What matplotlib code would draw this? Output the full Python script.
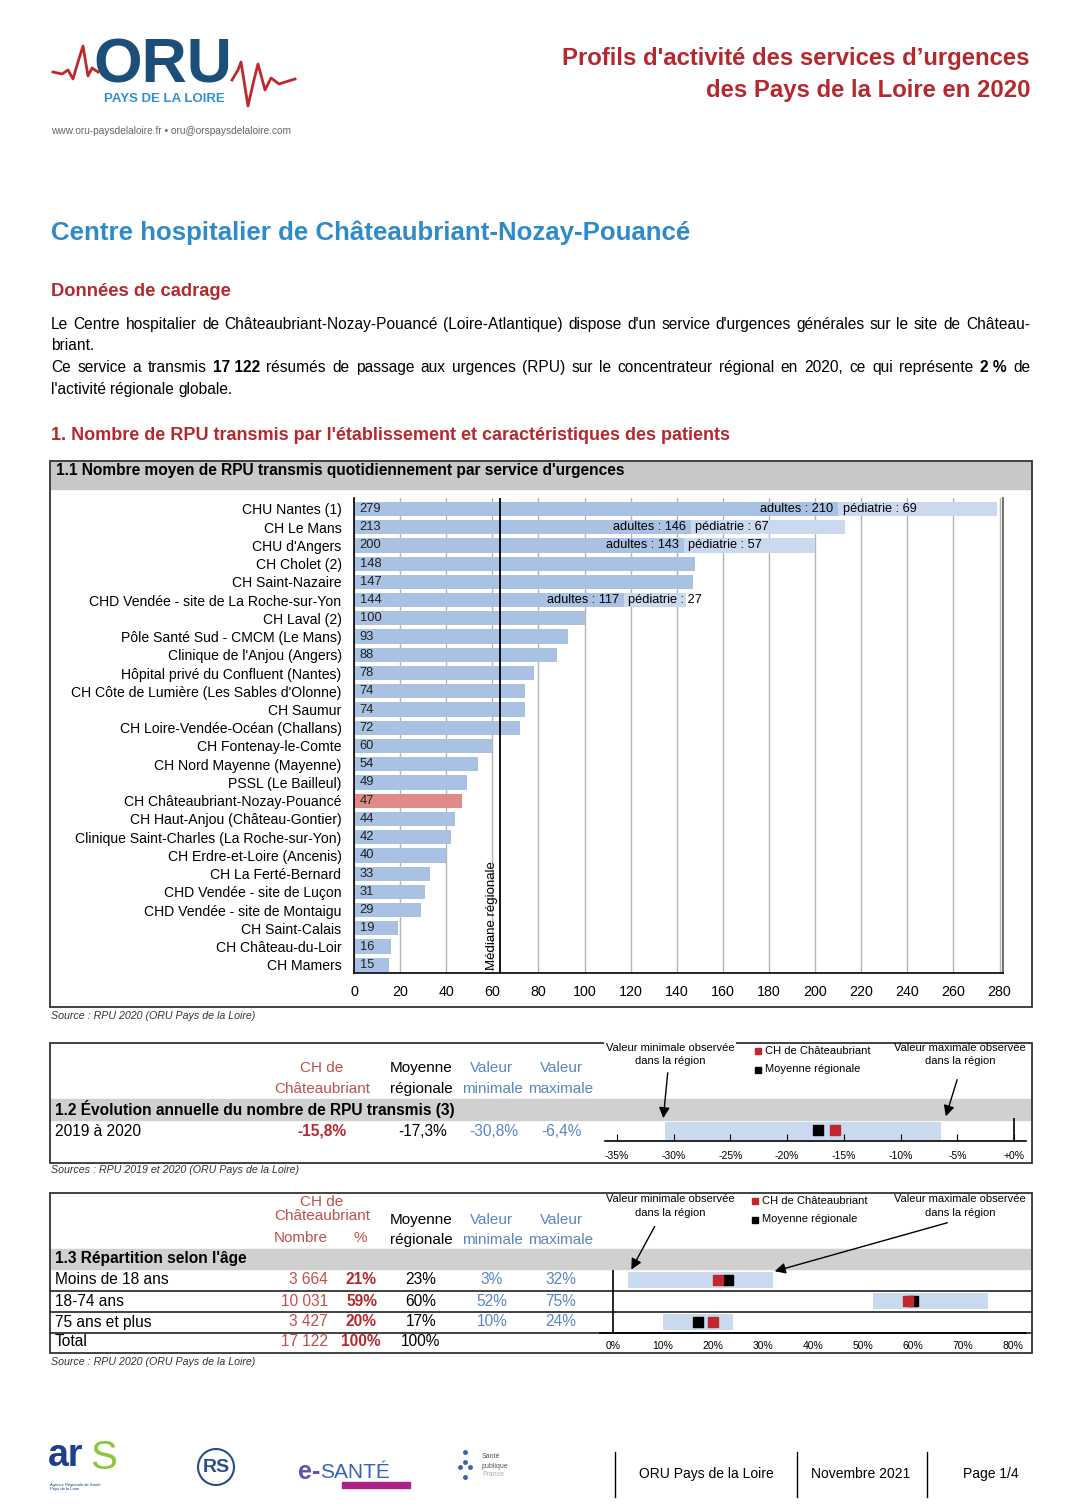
import numpy as np
import matplotlib.pyplot as plt
from matplotlib.patches import Rectangle, Circle

plt.rcParams['font.family'] = ['Liberation Sans', 'DejaVu Sans']

# 1.1 nombre moyen de RPU par jour
etablissements = ["CHU Nantes (1)", "CH Le Mans", "CHU d'Angers", "CH Cholet (2)", "CH Saint-Nazaire",
                  "CHD Vendée - site de La Roche-sur-Yon", "CH Laval (2)", "Pôle Santé Sud - CMCM (Le Mans)",
                  "Clinique de l'Anjou (Angers)", "Hôpital privé du Confluent (Nantes)",
                  "CH Côte de Lumière (Les Sables d'Olonne)", "CH Saumur", "CH Loire-Vendée-Océan (Challans)",
                  "CH Fontenay-le-Comte", "CH Nord Mayenne (Mayenne)", "PSSL (Le Bailleul)",
                  "CH Châteaubriant-Nozay-Pouancé", "CH Haut-Anjou (Château-Gontier)",
                  "Clinique Saint-Charles (La Roche-sur-Yon)", "CH Erdre-et-Loire (Ancenis)", "CH La Ferté-Bernard",
                  "CHD Vendée - site de Luçon", "CHD Vendée - site de Montaigu", "CH Saint-Calais",
                  "CH Château-du-Loir", "CH Mamers"]
rpu_jour = [279, 213, 200, 148, 147, 144, 100, 93, 88, 78, 74, 74, 72, 60, 54, 49, 47, 44, 42, 40, 33, 31, 29, 19, 16, 15]
split_noms = ["CHU Nantes (1)", "CH Le Mans", "CHU d'Angers", "CHD Vendée - site de La Roche-sur-Yon"]
split_adultes = [210, 146, 143, 117]
split_pedia = [69, 67, 57, 27]
mediane = 63.5
etab = "CH Châteaubriant-Nozay-Pouancé"
x_ticks = list(range(0, 281, 20))

# 1.2 evolution 2019 -> 2020
evol_ch = -15.8
evol_moy = -17.3
evol_min = -30.8
evol_max = -6.4
evol_ticks = [-35, -30, -25, -20, -15, -10, -5, 0]
evol_labels = ["-35%", "-30%", "-25%", "-20%", "-15%", "-10%", "-5%", "+0%"]

# 1.3 age
age_cl = ["Moins de 18 ans", "18-74 ans", "75 ans et plus"]
age_nb = [3664, 10031, 3427]
age_pct = [21, 59, 20]
age_moy = [23, 60, 17]
age_min = [3, 52, 10]
age_max = [32, 75, 24]
age_total = 17122
age_ticks = [0, 10, 20, 30, 40, 50, 60, 70, 80]

ROUGE = '#b5282d'
ROUGE2 = '#c0504d'
BLEU = '#5b84c4'
BLEU_BAR = '#a9c1e2'
BLEU_CLAIR = '#c9d9ee'
T = 11.2  # taille du texte des tableaux


def nb(n):
    return f"{n:,}".replace(",", " ")


fig = plt.figure(figsize=(10.8, 15.12), dpi=100)
page = fig.add_axes([0, 0, 1, 1])
page.set_xlim(0, 1080)
page.set_ylim(1512, 0)
page.axis('off')


def px_axes(x0, y0, x1, y1):
    return fig.add_axes([x0 / 1080, 1 - y1 / 1512, (x1 - x0) / 1080, (y1 - y0) / 1512])


def txt(x, y, s, size=T, **kw):
    kw.setdefault('va', 'center')
    return page.text(x, y, s, fontsize=size, **kw)


def ligne_justifiee(mots, y, x0, x1=None, size=11.2):
    # y = ligne de base
    r = fig.canvas.get_renderer()
    objs = [txt(x0, y, m, size, va='baseline', fontweight='bold' if g else 'normal') for m, g in mots]
    larg = [t.get_window_extent(r).width for t in objs]
    gap = size * 0.28 * 100 / 72 if x1 is None else (x1 - x0 - sum(larg)) / (len(objs) - 1)
    x = x0
    for t, w in zip(objs, larg):
        t.set_x(x)
        x += w + gap


# ---- en-tete
ecg_g = [(53, 72), (62, 74), (68, 70), (73, 79), (78, 62), (83, 46), (88, 76), (92, 68), (98, 72)]
ecg_d = [(232, 80), (238, 70), (241, 62), (248, 106), (253, 84), (258, 64), (265, 90), (271, 78), (279, 84), (295, 79)]
page.plot(*zip(*ecg_g), color='#c0282d', lw=2)
page.plot(*zip(*ecg_d), color='#c0282d', lw=2)
page.text(93, 66, "ORU", fontsize=45, fontweight='bold', color='#1b4f7a', va='center')
txt(164, 99, "PAYS DE LA LOIRE", 9.5, fontweight='bold', color='#2f8fd6', ha='center')
txt(51, 131, "www.oru-paysdelaloire.fr \u2022 oru@orspaysdelaloire.com", 7.3, color='#666666')

txt(1030, 58, "Profils d'activité des services d’urgences", 17.2, fontweight='bold', color=ROUGE, ha='right')
txt(1030, 91, "des Pays de la Loire en 2020", 17.2, fontweight='bold', color=ROUGE, ha='right')

txt(51, 233, "Centre hospitalier de Châteaubriant-Nozay-Pouancé", 18.6, fontweight='bold', color='#2e8bc9')
txt(51, 292, "Données de cadrage", 13.2, fontweight='bold', color=ROUGE)

l1 = [(m, False) for m in "Le Centre hospitalier de Châteaubriant-Nozay-Pouancé (Loire-Atlantique) dispose d'un "
      "service d'urgences générales sur le site de Château-".split()]
l3 = [(m, False) for m in "Ce service a transmis".split()] + [("17 122", True)] + \
     [(m, False) for m in "résumés de passage aux urgences (RPU) sur le concentrateur régional en 2020, ce qui "
      "représente".split()] + [("2 %", True), ("de", False)]
ligne_justifiee(l1, 329, 51, 1030)
ligne_justifiee([("briant.", False)], 350, 51)
ligne_justifiee(l3, 372, 51, 1030)
ligne_justifiee([(m, False) for m in "l'activité régionale globale.".split()], 394, 51)

txt(51, 436, "1. Nombre de RPU transmis par l'établissement et caractéristiques des patients", 13,
    fontweight='bold', color=ROUGE)

# ---- boites
for y0, y1 in [(461, 1007), (1043, 1163), (1193, 1353)]:
    page.add_patch(Rectangle((50, y0), 982, y1 - y0, fill=False, ec='#333333', lw=1.3, zorder=1))
page.add_patch(Rectangle((51, 462), 980, 27, color='#c8c8c8', zorder=0))
page.add_patch(Rectangle((51, 1099), 980, 21, color='#d0d0d0', zorder=0))
page.add_patch(Rectangle((51, 1249), 980, 20, color='#d0d0d0', zorder=0))
txt(56, 470, "1.1 Nombre moyen de RPU transmis quotidiennement par service d'urgences", 11.2, fontweight='bold')

# ---- 1.1 barres
ax = px_axes(354, 498, 1003, 973)
y = np.arange(len(etablissements))
couleurs = ['#e08a87' if n == etab else BLEU_BAR for n in etablissements]
ax.barh(y, rpu_jour, height=0.78, color=couleurs, zorder=2)
for nom, a, p in zip(split_noms, split_adultes, split_pedia):
    i = etablissements.index(nom)
    ax.barh(i, p, left=a, height=0.78, color='#cbd9ef', zorder=3)
    ax.text(a - 2, i, f"adultes : {a}", ha='right', va='center', fontsize=9.2, zorder=4)
    ax.text(a + 2, i, f"pédiatrie : {p}", ha='left', va='center', fontsize=9.2, zorder=4)
for i, v in enumerate(rpu_jour):
    ax.text(2.5, i, str(v), va='center', fontsize=9.3, color='#222222', zorder=4)
ax.axvline(mediane, color='black', lw=1.3, zorder=5)
ax.text(mediane - 1.2, 25.3, "Médiane régionale", rotation=90, ha='right', va='bottom', fontsize=9.5, zorder=5)
ax.set_xlim(0, 281.5)
ax.set_ylim(25.45, -0.6)
ax.set_xticks(x_ticks)
ax.set_yticks(y, etablissements)
ax.grid(axis='x', color='#b5b5b5', lw=1, zorder=1)
ax.tick_params(axis='y', length=0, pad=9, labelsize=10.1)
ax.tick_params(axis='x', length=0, pad=9, labelsize=10.3)
ax.spines['top'].set_visible(False)
for s in ['left', 'bottom', 'right']:
    ax.spines[s].set_linewidth(1.2)
ax.spines['right'].set_color('#555555')
ax.set_axisbelow(True)

txt(51, 1016, "Source : RPU 2020 (ORU Pays de la Loire)", 7.7, style='italic', color='#333333')


# ---- legende et fleches des petits graphiques
def legende_mini(y_txt, y_leg, fl_min, fl_max, masque=False):
    bb = dict(facecolor='white', edgecolor='none', pad=1.5) if masque else None
    txt(670, y_txt, "Valeur minimale observée", 8, ha='center', bbox=bb, zorder=3)
    txt(670, y_txt + 13.5, "dans la région", 8, ha='center')
    txt(960, y_txt, "Valeur maximale observée", 8, ha='center')
    txt(960, y_txt + 13.5, "dans la région", 8, ha='center')
    page.plot(y_leg[0], y_leg[1], 's', color='#c0282d', ms=5)
    page.plot(y_leg[0], y_leg[1] + 18.5, 's', color='black', ms=5)
    txt(y_leg[0] + 7, y_leg[1], "CH de Châteaubriant", 8)
    txt(y_leg[0] + 7, y_leg[1] + 18.5, "Moyenne régionale", 8)
    for (xa, ya, xb, yb) in [fl_min, fl_max]:
        page.annotate("", xy=(xb, yb), xytext=(xa, ya),
                      arrowprops=dict(arrowstyle='-|>', color='black', lw=1, mutation_scale=16))


# ---- 1.2 tableau
for yy, a, b, c, d in [(1068, "CH de", "Moyenne", "Valeur", "Valeur"),
                       (1089, "Châteaubriant", "régionale", "minimale", "maximale")]:
    txt(322, yy, a, 11, ha='center', color=ROUGE2)
    txt(421, yy, b, 11, ha='center')
    txt(492, yy, c, 11, ha='center', color=BLEU)
    txt(561, yy, d, 11, ha='center', color=BLEU)
txt(55, 1109, "1.2 Évolution annuelle du nombre de RPU transmis (3)", 11.2, fontweight='bold')
txt(55, 1131, "2019 à 2020")
txt(347, 1131, f"{evol_ch:.1f}%".replace(".", ","), ha='right', color=ROUGE, fontweight='bold')
txt(447, 1131, f"{evol_moy:.1f}%".replace(".", ","), ha='right')
txt(518, 1131, f"{evol_min:.1f}%".replace(".", ","), ha='right', color=BLEU)
txt(582, 1131, f"{evol_max:.1f}%".replace(".", ","), ha='right', color=BLEU)

k2 = (1014 - 617) / 35
ax2 = px_axes(605, 1118, 1026, 1141)
ax2.set_xlim(-35 - 12 / k2, 0 + 12 / k2)
ax2.set_ylim(0, 1)
ax2.barh(0.44, evol_max - evol_min, left=evol_min, height=0.78, color=BLEU_CLAIR)
ax2.plot(evol_moy, 0.47, 's', color='black', ms=7)
ax2.plot(evol_ch, 0.47, 's', color='#c0282d', ms=7)
ax2.axvline(0, color='black', lw=1.2)
ax2.set_facecolor('none')
for s in ['top', 'left', 'right']:
    ax2.spines[s].set_visible(False)
ax2.spines['bottom'].set_linewidth(1.2)
ax2.set_yticks([])
ax2.set_xticks(evol_ticks, evol_labels)
ax2.tick_params(axis='x', direction='in', length=5, pad=7, labelsize=7.5)
legende_mini(1048, (758, 1051), (668, 1070, 663, 1121), (958, 1077, 945, 1119), masque=True)

txt(51, 1170, "Sources : RPU 2019 et 2020 (ORU Pays de la Loire)", 7.7, style='italic', color='#333333')

# ---- 1.3 tableau
txt(322, 1202, "CH de", 11, ha='center', color=ROUGE2)
txt(322, 1216, "Châteaubriant", 11, ha='center', color=ROUGE2)
txt(301, 1238, "Nombre", 11, ha='center', color=ROUGE2)
txt(360, 1238, "%", 11, ha='center', color=ROUGE2)
for yy, b, c, d in [(1220, "Moyenne", "Valeur", "Valeur"), (1240, "régionale", "minimale", "maximale")]:
    txt(421, yy, b, 11, ha='center')
    txt(492, yy, c, 11, ha='center', color=BLEU)
    txt(561, yy, d, 11, ha='center', color=BLEU)
txt(55, 1258, "1.3 Répartition selon l'âge", 11.2, fontweight='bold')
rows_y = [1280, 1301, 1322]
for yy, cl, n, p, m, mi, ma in zip(rows_y, age_cl, age_nb, age_pct, age_moy, age_min, age_max):
    txt(55, yy, cl)
    txt(328, yy, nb(n), ha='right', color=ROUGE2)
    txt(377, yy, f"{p}%", ha='right', color=ROUGE, fontweight='bold')
    txt(421, yy, f"{m}%", ha='center')
    txt(492, yy, f"{mi}%", ha='center', color=BLEU)
    txt(561, yy, f"{ma}%", ha='center', color=BLEU)
txt(55, 1342, "Total")
txt(328, 1342, nb(age_total), ha='right', color=ROUGE2)
txt(381, 1342, f"{sum(age_pct)}%", ha='right', color=ROUGE, fontweight='bold')
txt(421, 1342, "100%", ha='center')
for yy in [1290.5, 1311.5, 1332.5]:
    page.plot([50, 1032], [yy, yy], color='#333333', lw=1.3)

k3 = (1013 - 613) / 80
ax3 = px_axes(600, 1270, 1026, 1333)
ax3.set_xlim(-13 / k3, 80 + 13 / k3)
ax3.set_ylim(2.524, -0.476)
r = np.arange(len(age_cl))
ax3.barh(r, np.array(age_max) - np.array(age_min), left=age_min, height=0.72, color=BLEU_CLAIR)
ax3.plot(age_moy, r, 's', color='black', ms=7, ls='none')
ax3.plot(age_pct, r, 's', color='#c0282d', ms=7, ls='none')
ax3.axvline(0, color='black', lw=1.2)
ax3.set_facecolor('none')
for s in ['top', 'left', 'right']:
    ax3.spines[s].set_visible(False)
ax3.spines['bottom'].set_linewidth(1.2)
ax3.set_yticks([])
ax3.set_xticks(age_ticks, [f"{t}%" for t in age_ticks])
ax3.tick_params(axis='x', direction='in', length=0, pad=6, labelsize=7.5)
legende_mini(1199, (755, 1201), (656, 1224, 630, 1272), (950, 1222, 772, 1272))

txt(51, 1362, "Source : RPU 2020 (ORU Pays de la Loire)", 7.7, style='italic', color='#333333')

# ---- pied de page
page.text(48, 1456, "ar", fontsize=27, fontweight='bold', color='#1d3f8c', va='center')
page.text(90, 1458, "S", fontsize=29, color='#8cc63f', va='center')
txt(50, 1487, "Agence Régionale de Santé\nPays de la Loire", 3, color='#1d3f8c')
page.add_patch(Circle((216, 1467), 18, fill=False, ec='#2b4c8c', lw=1.5))
txt(216, 1467, "RS", 14, ha='center', color='#2b4c8c', fontweight='bold')
page.text(298, 1472, "e-", fontsize=18, fontweight='bold', color='#6a4fb0', va='center')
page.text(320, 1472, "SANTÉ", fontsize=15, color='#3a62b8', va='center')
page.add_patch(Rectangle((342, 1482), 68, 6, color='#b0208a'))
page.plot([465, 465, 465, 460, 470], [1452, 1462, 1477, 1467, 1467], 'o', ms=2.5, color='#3a62b8')
txt(482, 1457, "Santé", 5, color='#555555')
txt(482, 1466, "publique", 5, color='#555555')
txt(482, 1475, "France", 5, color='#aaaaaa')
for xx in [615, 797, 927]:
    page.plot([xx, xx], [1452, 1497], color='black', lw=1)
txt(706, 1474, "ORU Pays de la Loire", 10, ha='center')
txt(861, 1474, "Novembre 2021", 10, ha='center')
txt(991, 1474, "Page 1/4", 10, ha='center')

fig.savefig("out.png", dpi=100)
